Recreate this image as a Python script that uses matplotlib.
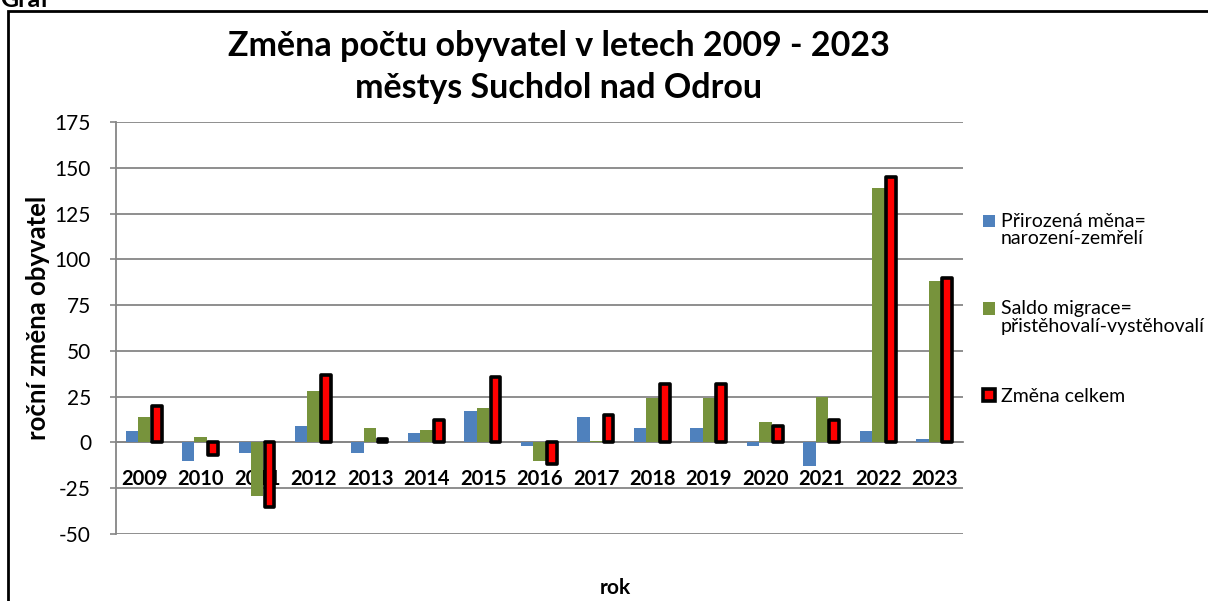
import matplotlib
matplotlib.use("Agg")
import matplotlib.pyplot as plt
import numpy as np
from matplotlib.patches import Rectangle
from matplotlib.legend_handler import HandlerPatch

plt.rcParams['font.family'] = ['Lato', 'DejaVu Sans']

years = ["2009", "2010", "2011", "2012", "2013", "2014", "2015", "2016",
         "2017", "2018", "2019", "2020", "2021", "2022", "2023"]
prirozena = [6, -10, -6, 9, -6, 5, 17, -2, 14, 8, 8, -2, -13, 6, 2]
migrace = [14, 3, -29, 28, 8, 7, 19, -10, 1, 24, 24, 11, 25, 139, 88]
celkem = [20, -7, -35, 37, 2, 12, 36, -12, 15, 32, 32, 9, 12, 145, 90]

labels = ["Přirozená měna=\nnarození-zemřelí",
          "Saldo migrace=\npřistěhovalí-vystěhovalí",
          "Změna celkem"]
yticks = [-50, -25, 0, 25, 50, 75, 100, 125, 150, 175]


class UpHandler(HandlerPatch):
    def __init__(self, shift, **kw):
        super().__init__(**kw)
        self.shift = shift

    def create_artists(self, legend, orig_handle, xdescent, ydescent,
                       width, height, fontsize, trans):
        return super().create_artists(legend, orig_handle, xdescent,
                                      ydescent - self.shift * fontsize,
                                      width, height, fontsize, trans)


W, H = 1208, 601
fig = plt.figure(figsize=(W / 100, H / 100), dpi=100)
ax = fig.add_axes([116 / W, 1 - 534 / H, (963 - 116) / W, (534 - 122) / H])

x = np.arange(len(years))
bw = 0.22
gray = "#868686"
b1 = ax.bar(x - bw, prirozena, bw, color="#4F81BD", zorder=3)
b2 = ax.bar(x, migrace, bw, color="#77933C", zorder=3)
b3 = ax.bar(x + bw, celkem, bw * 0.78, color="#FF0000", edgecolor="black",
            linewidth=2.6, joinstyle="round", zorder=4)

ax.spines['bottom'].set_position(('data', 0))
ax.spines['bottom'].set_color(gray)
ax.spines['bottom'].set_linewidth(1.3)
ax.spines['left'].set_color(gray)
ax.spines['left'].set_linewidth(1.3)
ax.spines['top'].set_visible(False)
ax.spines['right'].set_visible(False)

ax.set_xlim(-0.5, len(years) - 0.5)
ax.set_ylim(-50, 175)
ax.set_yticks(yticks)
ax.set_yticklabels([str(v) for v in yticks], fontsize=15)
ax.yaxis.grid(True, color=gray, linewidth=1.3, zorder=0)
ax.set_axisbelow(True)
ax.tick_params(axis='y', length=4, color=gray, width=1.2, pad=14)

ax.set_xticks(x)
ax.set_xticklabels(years, fontsize=14.5, fontweight='bold')
ax.tick_params(axis='x', length=0, pad=19)

ax.set_ylabel("roční změna obyvatel", fontsize=18.5, fontweight='bold')
ax.yaxis.set_label_coords(-66 / (963 - 116), 0.525)

fig.text(615 / W, 1 - 588 / H, "rok", ha='center', va='center',
         fontsize=15, fontweight='bold')

fig.text(559 / W, 1 - 67 / H,
         "Změna počtu obyvatel v letech 2009 - 2023\nměstys Suchdol nad Odrou",
         ha='center', va='center', fontsize=24.5, fontweight='bold',
         linespacing=1.38)

fig.text(0.0, 1 - 7 / H, "Graf", ha='left', va='baseline', fontsize=18,
         fontweight='bold')

fig.add_artist(Rectangle((8 / W, -0.1), 1.2, 1 - 11 / H + 0.1,
                         transform=fig.transFigure, fill=False,
                         edgecolor='black', linewidth=2))

h1, h2, h3 = b1.patches[0], b2.patches[0], b3.patches[0]
leg = fig.legend(handles=[h1, h2, h3], labels=labels,
                 loc='upper left', bbox_to_anchor=(975 / W, 1 - 205 / H),
                 frameon=False, fontsize=14, handlelength=0.62,
                 handleheight=0.62, handletextpad=0.3, labelspacing=2.72,
                 borderaxespad=0,
                 handler_map={h1: UpHandler(0.48), h2: UpHandler(0.48),
                              h3: UpHandler(0.0)})
for t in leg.get_texts():
    t.set_linespacing(1.05)

fig.savefig("out.png", dpi=100)
